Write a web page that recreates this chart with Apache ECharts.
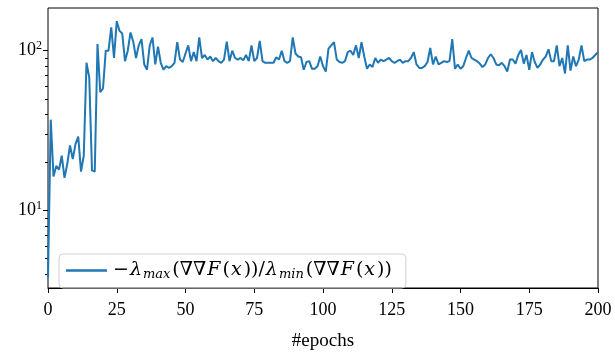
<!DOCTYPE html>
<html>
<head>
<meta charset="utf-8">
<script src="https://cdn.jsdelivr.net/npm/echarts@6/dist/echarts.min.js"></script>
<style>
  html, body { margin: 0; padding: 0; background: #fff; }
  #chart { width: 615px; height: 356px; }
</style>
</head>
<body>
<div id="chart"></div>
<script>
// epochs 0..200
const epochs = [];
for (let i = 0; i <= 200; i++) epochs.push(i);

// ratio -λmax/λmin per epoch
const ratio = [
  3.8, 37, 16.3, 19, 18, 22, 16, 19.5, 25.5, 21,
  26, 29, 17.5, 22, 84, 68, 17.8, 17.5, 110, 55,
  58, 100, 100, 140, 90, 153, 133, 128, 86, 100,
  130, 114, 90, 108, 118, 82, 76, 108, 121, 82,
  106, 84, 76, 80, 78, 80, 84, 113, 88, 85,
  96, 108, 86, 98, 86, 121, 90, 94, 88, 92,
  86, 90, 86, 84, 88, 114, 86, 100, 90, 88,
  90, 87, 94, 86, 108, 86, 90, 115, 86, 84,
  84, 84, 84, 91, 88, 100, 86, 84, 86, 121,
  96, 92, 91, 76, 85, 86, 77, 77, 80, 92,
  80, 74, 103, 108, 113, 88, 85, 84, 86, 98,
  100, 94, 108, 90, 113, 92, 77, 82, 79, 90,
  84, 88, 86, 88, 90, 86, 84, 86, 88, 84,
  86, 86, 90, 98, 82, 78, 78, 80, 85, 104,
  82, 92, 82, 84, 86, 85, 86, 118, 77, 82,
  77, 80, 90, 100, 90, 88, 86, 83, 79, 82,
  90, 95, 90, 82, 81, 84, 80, 74, 88, 88,
  83, 94, 101, 83, 94, 76, 98, 85, 78, 82,
  88, 92, 102, 86, 86, 108, 80, 90, 72, 108,
  75, 92, 80, 88, 108, 86, 88, 88, 90, 94,
  98
];

const yMajor = [10, 100];
const yMinor = [4, 5, 6, 7, 8, 9, 20, 30, 40, 50, 60, 70, 80, 90];

const serif = 'DejaVu Serif';
const chart = echarts.init(document.getElementById('chart'));

const yBase = {
  type: 'log',
  logBase: 10,
  min: 3.27,
  max: 185,
  position: 'left',
  splitLine: { show: false },
  axisLine: { show: false }
};

// -λmax(∇∇F(x))/λmin(∇∇F(x)) pieced together as rich text
const legendLabel =
  '{r|−}{i|λ}{s|max}{r|(∇∇}{i|F}{r|(}{i|x}{r|))/}{i|λ}{s|min}{r|(∇∇}{i|F}{r|(}{i|x}{r|))}';

chart.setOption({
  animation: false,
  grid: {
    left: 48, right: 17, top: 8, bottom: 57,
    show: true, borderColor: '#000', borderWidth: 1
  },
  legend: {
    left: 59, top: 254,
    padding: [7, 14, 7, 7],
    borderColor: '#d0d0d0', borderWidth: 1, borderRadius: 4,
    icon: 'rect', itemWidth: 41, itemHeight: 2.5,
    data: ['ratio'],
    formatter: () => legendLabel,
    textStyle: {
      rich: {
        r: { fontFamily: serif, fontSize: 19, color: '#000', padding: [0, 1, 0, 1] },
        i: { fontFamily: serif, fontStyle: 'italic', fontSize: 19, color: '#000', padding: [0, 1, 0, 0] },
        s: { fontFamily: serif, fontStyle: 'italic', fontSize: 13, color: '#000', padding: [8, 1, 0, 0] }
      }
    }
  },
  xAxis: {
    type: 'value',
    min: 0, max: 200, interval: 25,
    name: '#epochs',
    nameLocation: 'middle',
    nameGap: 44,
    nameTextStyle: { fontFamily: 'Liberation Serif', fontSize: 19, color: '#000' },
    axisLine: { show: true, lineStyle: { color: '#000' } },
    axisTick: { length: 5, lineStyle: { color: '#000' } },
    axisLabel: { fontFamily: 'Liberation Serif', fontSize: 18, color: '#000', margin: 13 },
    splitLine: { show: false }
  },
  yAxis: [
    Object.assign({}, yBase, {
      axisTick: { show: true, length: 5, customValues: yMajor, lineStyle: { color: '#000' } },
      axisLabel: {
        customValues: yMajor,
        margin: 6,
        formatter: v => '{b|10}{e|' + Math.round(Math.log10(v)) + '}',
        rich: {
          b: { fontFamily: 'Liberation Serif', fontSize: 18, color: '#000' },
          e: { fontFamily: 'Liberation Serif', fontSize: 12, color: '#000', padding: [0, 0, 9, 0] }
        }
      }
    }),
    Object.assign({}, yBase, {
      axisTick: { show: true, length: 3, customValues: yMinor, lineStyle: { color: '#000' } },
      axisLabel: { show: false }
    })
  ],
  series: [{
    name: 'ratio',
    type: 'line',
    yAxisIndex: 0,
    data: epochs.map((e, i) => [e, ratio[i]]),
    showSymbol: false,
    lineStyle: { color: '#1f77b4', width: 2 },
    itemStyle: { color: '#1f77b4' }
  }]
});
</script>
</body>
</html>
